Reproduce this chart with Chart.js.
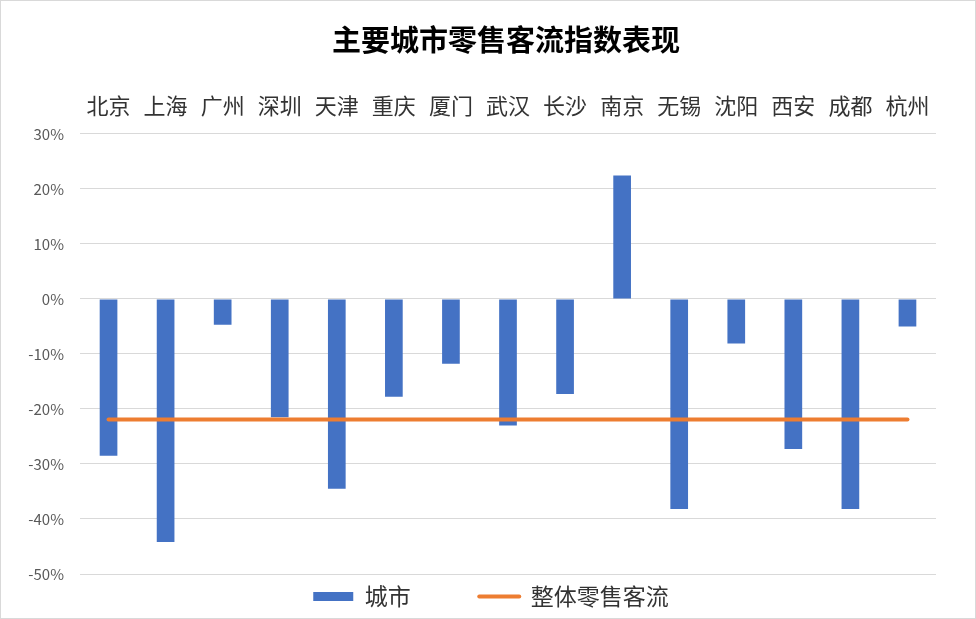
<!DOCTYPE html>
<html>
<head>
<meta charset="utf-8">
<script src="https://cdn.jsdelivr.net/npm/chart.js@4/dist/chart.umd.min.js"></script>
<style>
  html, body { margin: 0; padding: 0; background: #fff; }
  #wrap { width: 976px; height: 619px; box-sizing: border-box; border: 1px solid #d9d9d9; position: relative; }
  canvas { display: block; }
</style>
</head>
<body>
<div id="wrap"><canvas id="c" width="974" height="617"></canvas></div>
<script>
const categories = ['北京','上海','广州','深圳','天津','重庆','厦门','武汉','长沙','南京','无锡','沈阳','西安','成都','杭州'];
const cityValues = [-28.5, -44.2, -4.7, -21.5, -34.5, -17.8, -11.8, -23.0, -17.3, 22.4, -38.2, -8.1, -27.3, -38.2, -5.0];
const overallValues = [-21.9, -21.9, -21.9, -21.9, -21.9, -21.9, -21.9, -21.9, -21.9, -21.9, -21.9, -21.9, -21.9, -21.9, -21.9];
const yTicks = [30, 20, 10, 0, -10, -20, -30, -40, -50];
const seriesNames = ['城市', '整体零售客流'];
const titleText = '主要城市零售客流指数表现';

const FONT = '"Noto Sans CJK SC", "Noto Sans", sans-serif';

// nudges the title and legend blocks horizontally after layout
const shiftBlocks = {
  id: 'shiftBlocks',
  afterLayout(chart) {
    const t = chart.titleBlock;
    if (t) { t.left += 18; t.right += 18; }
    const l = chart.legend;
    if (l) { l.left += 3; l.right += 3; }
  }
};

new Chart(document.getElementById('c'), {
  data: {
    labels: categories,
    datasets: [
      {
        type: 'line',
        label: seriesNames[1],
        data: overallValues,
        borderColor: '#ED7D31',
        backgroundColor: '#ED7D31',
        borderWidth: 4,
        pointRadius: 0,
        borderCapStyle: 'round',
        order: 0
      },
      {
        type: 'bar',
        label: seriesNames[0],
        data: cityValues,
        backgroundColor: '#4472C4',
        categoryPercentage: 1.0,
        barPercentage: 0.31,
        order: 1
      }
    ]
  },
  plugins: [shiftBlocks],
  options: {
    responsive: false,
    animation: false,
    layout: { padding: { left: 0, right: 0, top: 0, bottom: 0 } },
    plugins: {
      title: {
        display: true,
        text: titleText,
        color: '#000',
        font: { family: FONT, size: 29, weight: 'bold' },
        padding: { top: 22, bottom: 0 }
      },
      legend: {
        display: true,
        position: 'bottom',
        reverse: true,
        labels: {
          color: '#333',
          font: { family: FONT, size: 23 },
          usePointStyle: true,
          pointStyleWidth: 40,
          boxHeight: 9,
          padding: 11,
          generateLabels(chart) {
            const items = Chart.defaults.plugins.legend.labels.generateLabels(chart);
            items.forEach(it => {
              const ds = chart.data.datasets[it.datasetIndex];
              if (ds.type === 'line') {
                it.pointStyle = 'line';
                it.strokeStyle = ds.borderColor;
                it.fillStyle = ds.borderColor;
                it.lineWidth = 4;
                it.lineCap = 'round';
              } else {
                it.pointStyle = 'rect';
                it.fillStyle = ds.backgroundColor;
                it.strokeStyle = ds.backgroundColor;
                it.lineWidth = 0;
                it.text = it.text + '\u3000\u3000\u2002';
              }
            });
            return items;
          }
        }
      },
      tooltip: { enabled: false }
    },
    scales: {
      x: {
        position: 'top',
        grid: { display: false, drawTicks: false },
        border: { display: false },
        ticks: {
          color: '#333',
          font: { family: FONT, size: 22 },
          padding: 15,
          maxRotation: 0,
          autoSkip: false
        },
        afterFit(scale) { scale.height = 76; }
      },
      y: {
        min: -50,
        max: 30,
        afterBuildTicks(scale) { scale.ticks = yTicks.map(v => ({ value: v })); },
        grid: { color: '#d9d9d9', lineWidth: 1, drawTicks: false },
        border: { display: false },
        ticks: {
          color: '#595959',
          font: { family: FONT, size: 15 },
          padding: 16,
          callback: v => v + '%'
        },
        afterFit(scale) { scale.width = 79; }
      },
      yRight: {
        position: 'right',
        display: true,
        grid: { display: false, drawTicks: false },
        border: { display: false },
        ticks: { display: false },
        afterFit(scale) { scale.width = 39; }
      }
    }
  }
});
</script>
</body>
</html>
